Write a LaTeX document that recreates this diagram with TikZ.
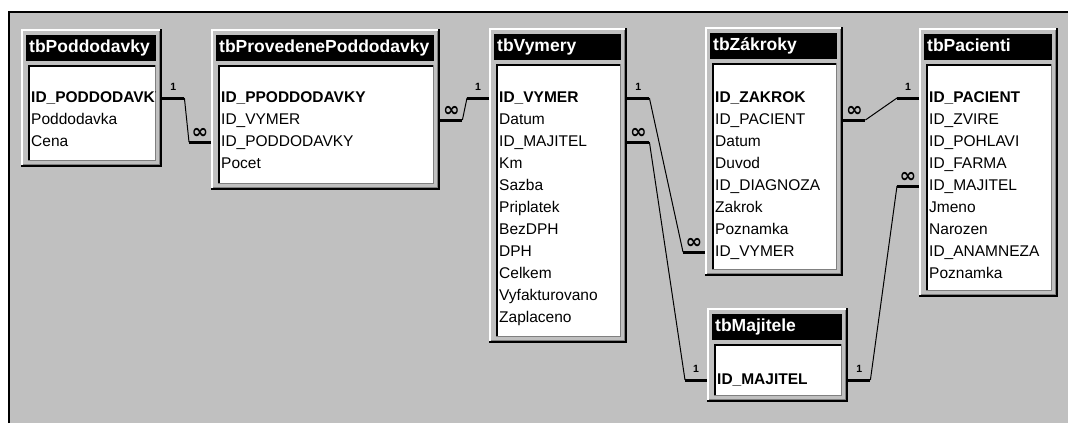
\documentclass[tikz,border=0pt]{standalone}
\usepackage{fontspec}
\setmainfont{Liberation Sans}
\newfontfamily\infont{DejaVu Sans}
\usetikzlibrary{calc}
\definecolor{bg}{HTML}{C0C0C0}
\definecolor{dk}{HTML}{808080}
\tikzset{
  fld/.style={anchor=west, inner sep=0pt, text height=11pt, text depth=3pt, font=\fontsize{15.5}{15.5}\selectfont},
  keyfld/.style={fld, font=\fontsize{15.5}{15.5}\selectfont\bfseries},
  ttl/.style={anchor=west, inner sep=0pt, text=white, text height=12pt, text depth=4pt, font=\fontsize{17.5}{17.5}\selectfont\bfseries},
  stub/.style={line width=3pt},
  link/.style={line width=1pt},
  one/.style={anchor=south, inner sep=0pt, yshift=6pt, font=\fontsize{10.5}{10.5}\selectfont\bfseries},
  many/.style={anchor=south, inner sep=0pt, yshift=2.5pt, font=\infont\fontsize{20}{20}\selectfont\bfseries},
  tbl/.style={draw=none, inner sep=0pt, anchor=north west},
}
% name, x1, y1, x2, y2, title
\newcommand{\erTable}[6]{%
  \node[tbl, minimum width={(#4-#2)*1pt}, minimum height={(#5-#3)*1pt}] (#1) at (#2,#3) {};
  \fill[bg] (#2,#3) rectangle (#4,#5);
  \draw[white, line width=2pt] (#2+1,#5-1) -- (#2+1,#3+1) -- (#4-1,#3+1);
  \draw[black, line width=2pt] (#4-1,#3) -- (#4-1,#5-1) -- (#2,#5-1);
  \draw[dk, line width=1pt] (#4-2.5,#3+2) -- (#4-2.5,#5-2.5) -- (#2+2,#5-2.5);
  \fill[black] (#2+5,#3+6) rectangle (#4-6,#3+32);
  \node[ttl] (#1-t) at (#2+8,#3+19) {#6};
  \fill[white] (#2+7,#3+36) rectangle (#4-6,#5-7);
  \draw[black, line width=2pt] (#2+8,#5-7) -- (#2+8,#3+37) -- (#4-6,#3+37);
  \draw[dk, line width=1pt] (#4-6.5,#3+36) -- (#4-6.5,#5-6.5) -- (#2+7,#5-6.5);
}
% name, x, y0, key, others
\newcommand{\erFields}[5]{%
  \begin{scope}
    \clip ($(#1.north west)+(9,38)$) rectangle ($(#1.south east)+(-7,-7)$);
    \node[keyfld] (#1-1) at (#2,#3) {#4};
    \foreach \t [count=\i from 2] in {#5} {
      \node[fld] (#1-\i) at (#2,{#3+22*(\i-1)}) {\t};
    }
  \end{scope}
}
% S, T, S style, S text, T style, T text
\newcommand{\erLink}[6]{%
  \draw[stub] (#1) -- ++(22,0) node[#3, pos=0.5] {#4};
  \draw[stub] (#2) -- ++(-22,0) node[#5, pos=0.5] {#6};
  \draw[link] ($(#1)+(22,0)$) -- ($(#2)+(-22,0)$);
}
\begin{document}
\begin{tikzpicture}[x=1pt, y=-1pt]
\useasboundingbox (0,0) rectangle (1068,423);
\fill[white] (0,0) rectangle (1068,423);
\fill[bg] (8,11) rectangle (1068,423);
\draw[black, line width=2pt] (9,423) -- (9,12) -- (1068,12);

\erTable{pod}{21}{29}{162}{167}{tbPoddodavky}
\erFields{pod}{31}{98}{ID\_PODDODAVKY}{Poddodavka,Cena}

\erTable{prov}{211}{29}{440}{190}{tbProvedenePoddodavky}
\erFields{prov}{221}{98}{ID\_PPODDODAVKY}{ID\_VYMER,ID\_PODDODAVKY,Pocet}

\erTable{vym}{489}{28}{627}{343}{tbVymery}
\erFields{vym}{499}{98}{ID\_VYMER}{Datum,ID\_MAJITEL,Km,Sazba,Priplatek,BezDPH,DPH,Celkem,Vyfakturovano,Zaplaceno}

\erTable{zak}{705}{27}{843}{276}{tbZákroky}
\erFields{zak}{715}{98}{ID\_ZAKROK}{ID\_PACIENT,Datum,Duvod,ID\_DIAGNOZA,Zakrok,Poznamka,ID\_VYMER}

\erTable{pac}{919}{28}{1058}{297}{tbPacienti}
\erFields{pac}{929}{98}{ID\_PACIENT}{ID\_ZVIRE,ID\_POHLAVI,ID\_FARMA,ID\_MAJITEL,Jmeno,Narozen,ID\_ANAMNEZA,Poznamka}

\erTable{maj}{707}{308}{848}{402}{tbMajitele}
\begin{scope}
  \clip ($(maj.north west)+(9,38)$) rectangle ($(maj.south east)+(-7,-7)$);
  \node[keyfld] (maj-1) at (717,380) {ID\_MAJITEL};
\end{scope}

% connection points
\coordinate (s1) at (pod.east |- pod-1.west);
\coordinate (t1) at (prov.west |- prov-3.west);
\coordinate (s2) at (prov.east |- prov-2.west);
\coordinate (t2) at (vym.west |- vym-1.west);
\coordinate (s3) at (vym.east |- vym-1.west);
\coordinate (t3) at (zak.west |- zak-8.west);
\coordinate (s4) at (vym.east |- vym-3.west);
\coordinate (t4) at (maj.west |- maj-1.west);
\coordinate (s5) at (zak.east |- zak-2.west);
\coordinate (t5) at (pac.west |- pac-1.west);
\coordinate (s6) at (maj.east |- maj-1.west);
\coordinate (t6) at (pac.west |- pac-5.west);

\erLink{s1}{t1}{one}{1}{many}{∞}
\erLink{s2}{t2}{many}{∞}{one}{1}
\erLink{s3}{t3}{one}{1}{many}{∞}
\erLink{s4}{t4}{many}{∞}{one}{1}
\erLink{s5}{t5}{many}{∞}{one}{1}
\erLink{s6}{t6}{one}{1}{many}{∞}
\end{tikzpicture}
\end{document}
